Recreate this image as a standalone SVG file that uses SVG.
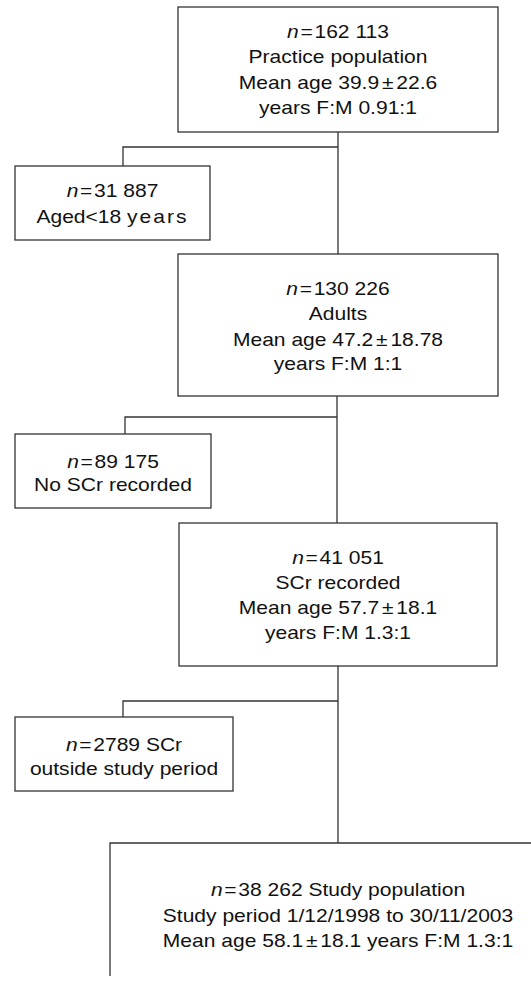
<svg xmlns="http://www.w3.org/2000/svg" width="531" height="982" viewBox="0 0 531 982">
<style>
.box{fill:#fff;stroke:#333;stroke-width:1.3}
.ln{fill:none;stroke:#333;stroke-width:1.3}
text{font-family:"Liberation Sans",Arial,sans-serif;font-size:18.8px;fill:#111;text-anchor:middle}
.i{font-style:italic}
</style>
<rect width="531" height="982" fill="#fff"/>
<g id="connectors">
<path class="ln" d="M338,132V254M338,147H123V166"/>
<path class="ln" d="M337,396V523M337,417H125V434"/>
<path class="ln" d="M338,666V843M338,701H123V717"/>
</g>
<g id="practice">
<rect class="box" x="178" y="7" width="320" height="125"/>
<g transform="translate(338 0) scale(1.12 1)">
<text x="0" y="38"><tspan class="i">n</tspan><tspan dx="1.5">=</tspan><tspan dx="1.5">162 113</tspan></text>
<text x="0" y="63.5">Practice population</text>
<text x="0" y="89.5">Mean age 39.9<tspan dx="2.5">±</tspan><tspan dx="2.5">22.6</tspan></text>
<text x="0" y="114.5">years F:M 0.91:1</text>
</g>
</g>
<g id="under18">
<rect class="box" x="15" y="166" width="195" height="74"/>
<g transform="translate(112.5 0) scale(1.12 1)">
<text x="0" y="197"><tspan class="i">n</tspan><tspan dx="1.5">=</tspan><tspan dx="1.5">31 887</tspan></text>
<text x="0" y="223">Aged&lt;18 <tspan letter-spacing="1.8">years</tspan></text>
</g>
</g>
<g id="adults">
<rect class="box" x="178" y="254" width="320" height="142"/>
<g transform="translate(338 0) scale(1.12 1)">
<text x="0" y="295"><tspan class="i">n</tspan><tspan dx="1.5">=</tspan><tspan dx="1.5">130 226</tspan></text>
<text x="0" y="320">Adults</text>
<text x="0" y="346">Mean age 47.2<tspan dx="2.5">±</tspan><tspan dx="2.5">18.78</tspan></text>
<text x="0" y="370">years F:M 1:1</text>
</g>
</g>
<g id="noscr">
<rect class="box" x="15" y="434" width="196" height="74"/>
<g transform="translate(113 0) scale(1.12 1)">
<text x="0" y="468"><tspan class="i">n</tspan><tspan dx="1.5">=</tspan><tspan dx="1.5">89 175</tspan></text>
<text x="0" y="491">No SCr recorded</text>
</g>
</g>
<g id="scr">
<rect class="box" x="179" y="523" width="318" height="143"/>
<g transform="translate(338 0) scale(1.12 1)">
<text x="0" y="564"><tspan class="i">n</tspan><tspan dx="1.5">=</tspan><tspan dx="1.5">41 051</tspan></text>
<text x="0" y="589">SCr recorded</text>
<text x="0" y="614">Mean age 57.7<tspan dx="2.5">±</tspan><tspan dx="2.5">18.1</tspan></text>
<text x="0" y="639">years F:M 1.3:1</text>
</g>
</g>
<g id="outside">
<rect class="box" x="15" y="717" width="218" height="74"/>
<g transform="translate(124 0) scale(1.12 1)">
<text x="0" y="751"><tspan class="i">n</tspan><tspan dx="1.5">=</tspan><tspan dx="1.5">2789 SCr</tspan></text>
<text x="0" y="775">outside study period</text>
</g>
</g>
<g id="study">
<path class="ln" d="M110,976V843H532"/>
<g transform="translate(338 0) scale(1.12 1)">
<text x="0" y="896"><tspan class="i">n</tspan><tspan dx="1.5">=</tspan><tspan dx="1.5">38 262 Study population</tspan></text>
<text x="0" y="922">Study period 1/12/1998 to 30/11/2003</text>
<text x="0" y="947">Mean age 58.1<tspan dx="2.5">±</tspan><tspan dx="2.5">18.1 years F:M 1.3:1</tspan></text>
</g>
</g>
</svg>
